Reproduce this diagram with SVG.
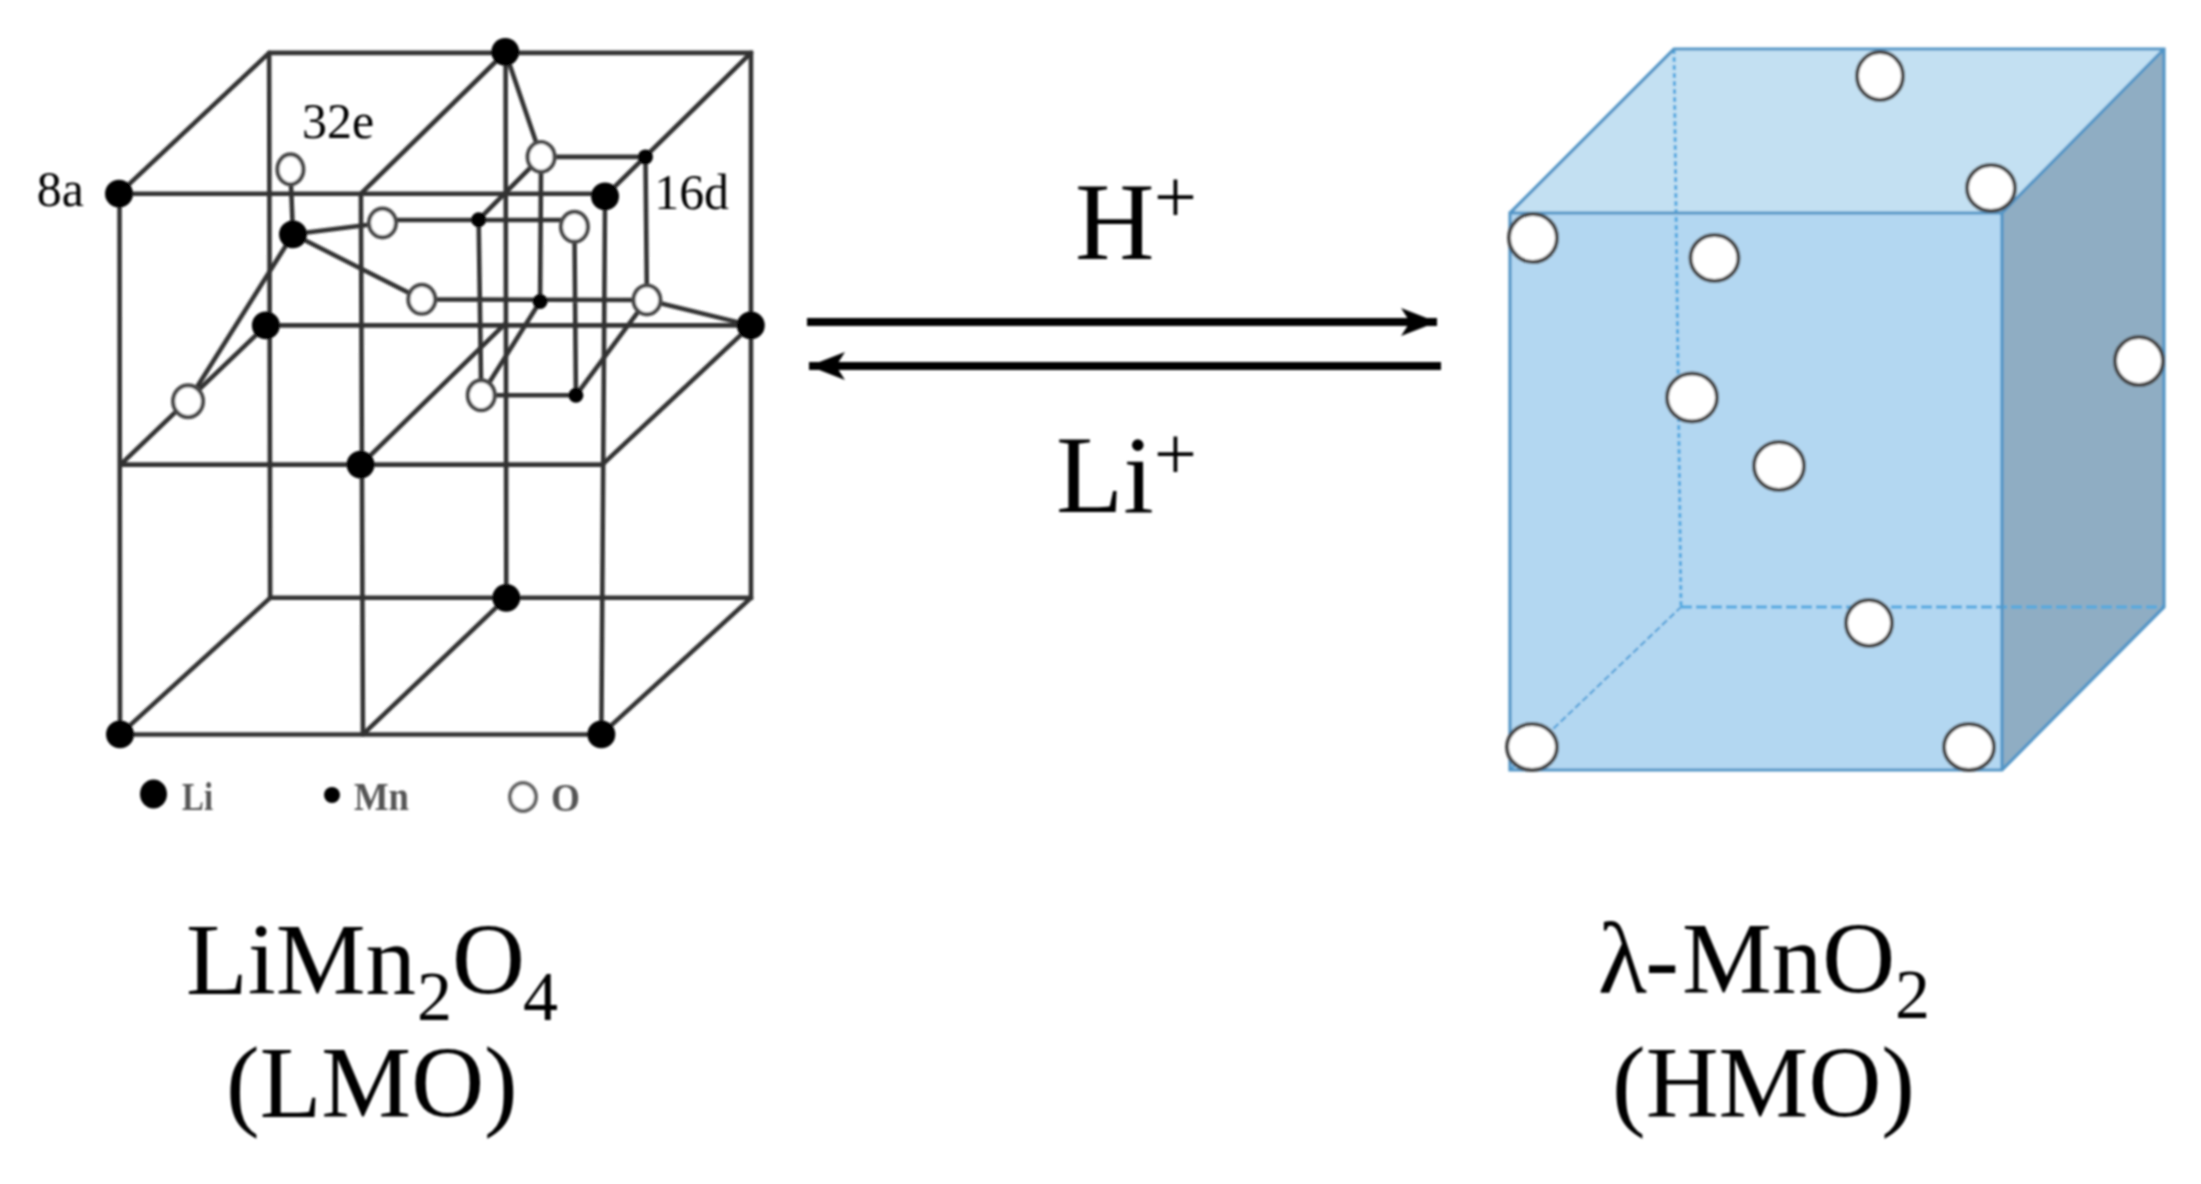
<svg xmlns="http://www.w3.org/2000/svg" width="2201" height="1184" viewBox="0 0 2201 1184">
<style>
text{font-family:"Liberation Serif","Times New Roman",serif;fill:#000}
.e{stroke:#333;stroke-width:4.6;fill:none;stroke-linecap:round}
.li{fill:#000}
.mn{fill:#000}
.o{fill:#fff;stroke:#4a4a4a;stroke-width:4.2}
.w{fill:#fff;stroke:#4a4a4a;stroke-width:4}
.lab{font-size:50px}
.leg{font-size:40px;fill:#555;font-weight:bold}
.big{font-size:101px}
.ion{font-size:110px}
.sup{font-size:76px}
.sub{font-size:70px}
.arrow{stroke:#000;stroke-width:8;fill:none}
</style>
<defs>
<filter id="soft" filterUnits="userSpaceOnUse" x="0" y="0" width="2201" height="1184"><feGaussianBlur stdDeviation="0.9"/></filter>
<marker id="head" viewBox="0 0 36 28" refX="36" refY="14" markerUnits="userSpaceOnUse" markerWidth="36" markerHeight="28" orient="auto"><path d="M0 0L36 14L0 28L9 14Z" fill="#000"/></marker>
</defs>
<rect width="2201" height="1184" fill="#fff"/>

<g id="lmo-cube" filter="url(#soft)">
<g transform="translate(-1.2 0.3) scale(0.9976 0.9942)">
<g id="lmo-lattice">
<path class="e" d="M120.500 194.500L607.700 194.500M121 194.500L121.500 738.400L604 738.400L607.700 197M363 194.500L365 738.400M122 467L605 467"/>
<path class="e" d="M271 52.900L754 52.900L754 601L272 601L271 52.900M508 52L508.700 601M268 327L754 327"/>
<path class="e" d="M120.500 194.500L271 52.900M363 194.500L508 52M607.700 197L754 52.900M122 467L268 327M363 467L508 325M605 467L754 327M121.500 738.400L272 601M365 738.400L508.700 601M604 738.400L754 601"/>
</g>
<g id="lmo-bonds">
<path class="e" d="M294.900 235.400L292.300 170M294.900 235.400L384.600 224M384.600 221L577 221M294.900 235.400L424 300.800M424 300.800L649.700 301.400M294.900 235.400L189.700 403.300M507.700 51.800L543.600 157.500M543.600 157.500L648.200 157.500M543.600 157.500L481 220.700M543.600 157.500L542.600 303M481 220.700L483.600 397.300M577 227.800L578.500 397.300M483.600 397.300L578.500 397.300M542.600 303L483.600 397.300M578.500 397.300L649.700 301.400M649.700 301.400L648.200 157.500M649.700 301.400L753.800 327"/>
</g>
<g id="lmo-li">
<circle class="li" cx="120.500" cy="194.500" r="14"/>
<circle class="li" cx="607.700" cy="197.300" r="14"/>
<circle class="li" cx="507.700" cy="51.800" r="14"/>
<circle class="li" cx="294.900" cy="235.400" r="14"/>
<circle class="li" cx="267.700" cy="327" r="14"/>
<circle class="li" cx="753.800" cy="327" r="14"/>
<circle class="li" cx="362.600" cy="467" r="14"/>
<circle class="li" cx="508.700" cy="601" r="14"/>
<circle class="li" cx="121.500" cy="738.400" r="14"/>
<circle class="li" cx="604" cy="738.400" r="14"/>
</g>
<g id="lmo-mn">
<circle class="mn" cx="648.200" cy="157.500" r="7.500"/>
<circle class="mn" cx="481" cy="220.700" r="7.500"/>
<circle class="mn" cx="542.600" cy="303" r="7.500"/>
<circle class="mn" cx="578.500" cy="397.300" r="7.500"/>
</g>
<g id="lmo-o">
<ellipse class="o" cx="292.300" cy="170" rx="13" ry="15"/>
<ellipse class="o" cx="384.600" cy="224" rx="13.500" ry="14.500"/>
<ellipse class="o" cx="577" cy="227.800" rx="13.500" ry="15"/>
<ellipse class="o" cx="543.600" cy="157.500" rx="13.500" ry="15"/>
<ellipse class="o" cx="424" cy="300.800" rx="13.500" ry="14.500"/>
<ellipse class="o" cx="649.700" cy="301.400" rx="13.500" ry="14.500"/>
<ellipse class="o" cx="189.700" cy="403.300" rx="15" ry="16"/>
<ellipse class="o" cx="483.600" cy="397.300" rx="13.500" ry="15"/>
</g>
<g id="lmo-site-labels">
<text class="lab" x="38" y="207">8a</text>
<text class="lab" x="304" y="139">32e</text>
<text class="lab" x="657" y="210">16d</text>
</g>
</g>
<g id="legend">
<ellipse class="li" cx="153.500" cy="794" rx="13.500" ry="14.500"/>
<text class="leg" x="182" y="810" textLength="31" lengthAdjust="spacingAndGlyphs">Li</text>
<circle class="mn" cx="332" cy="795" r="8"/>
<text class="leg" x="354" y="810" textLength="55" lengthAdjust="spacingAndGlyphs">Mn</text>
<ellipse cx="523" cy="797" rx="13" ry="14" fill="#fff" stroke="#666" stroke-width="4"/>
<text class="leg" x="551" y="811" font-weight="normal" textLength="29" lengthAdjust="spacingAndGlyphs">O</text>
</g>
</g>

<g id="hmo-cube" filter="url(#soft)">
<polygon points="1510,213 2002,213 2164,49 1672,49" fill="#c3e0f2"/>
<polygon points="2002,213 2164,49 2164,607 2002,770" fill="#8fadc3"/>
<rect x="1510" y="213" width="492" height="557" fill="#b3d7f1"/>
<path d="M1674 49L1681 607" stroke="#4fa8e0" stroke-width="3" stroke-dasharray="5 3" fill="none"/>
<path d="M1681 607L2164 607" stroke="#4fa8e0" stroke-width="3" stroke-dasharray="11 4" fill="none"/>
<path d="M1510 770L1681 607" stroke="#4fa0d8" stroke-width="2.200" stroke-dasharray="7 3" fill="none"/>
<path d="M1510 213L1674 49L2164 49L2164 607L2002 770L1510 770L1510 213L2002 213L2002 770M2002 213L2164 49" stroke="#5295c6" stroke-width="3.200" fill="none"/>
<ellipse class="w" cx="1880" cy="76" rx="23" ry="24"/>
<ellipse class="w" cx="1991" cy="188" rx="24" ry="23"/>
<ellipse class="w" cx="1533" cy="238" rx="24" ry="24"/>
<ellipse class="w" cx="1714.500" cy="258" rx="24" ry="23"/>
<ellipse class="w" cx="2139" cy="361" rx="24" ry="24"/>
<ellipse class="w" cx="1692" cy="397.500" rx="25" ry="24"/>
<ellipse class="w" cx="1779" cy="466" rx="25" ry="24"/>
<ellipse class="w" cx="1869" cy="623" rx="23" ry="23"/>
<ellipse class="w" cx="1532" cy="747" rx="25" ry="23"/>
<ellipse class="w" cx="1969" cy="747" rx="25" ry="23"/>
</g>

<g id="connectors" filter="url(#soft)">
<path class="arrow" d="M807 322L1437 322" marker-end="url(#head)"/>
<path class="arrow" d="M1441 366L809 366" marker-end="url(#head)"/>
</g>

<g id="labels" filter="url(#soft)">
<text class="ion" x="1075" y="259">H</text>
<text class="sup" x="1154" y="222">+</text>
<text class="ion" x="1056" y="512">Li</text>
<text class="sup" x="1154" y="479">+</text>
<text class="big" x="186" y="994">LiMn</text>
<text class="sub" x="417" y="1020">2</text>
<text class="big" x="452" y="994">O</text>
<text class="sub" x="523" y="1020">4</text>
<text class="big" x="226" y="1117">(LMO)</text>
<text class="big" x="1598" y="993" textLength="81">λ-</text>
<text class="big" x="1682" y="993">MnO</text>
<text class="sub" x="1895" y="1018">2</text>
<text class="big" x="1612" y="1117">(HMO)</text>
</g>
</svg>
